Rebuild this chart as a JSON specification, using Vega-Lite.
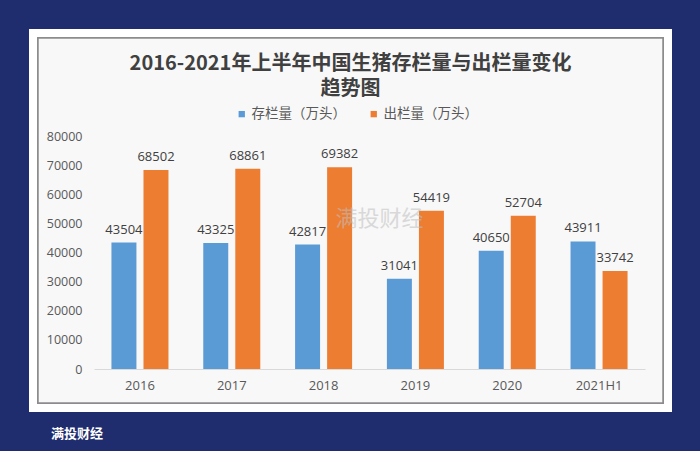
{
  "$schema": "https://vega.github.io/schema/vega-lite/v6.json",
  "width": 643,
  "height": 383,
  "autosize": {"type": "none"},
  "padding": {"left": 29, "top": 29, "right": 28, "bottom": 39},
  "background": "#1f2d6e",
  "config": {"view": {"fill": "#f8f8f8", "stroke": null}, "font": "Noto Sans CJK SC"},
  "title": {
    "text": ["2016-2021年上半年中国生猪存栏量与出栏量变化", "趋势图"],
    "fontSize": 20,
    "fontWeight": "bold",
    "font": "Noto Sans CJK SC",
    "color": "#404040",
    "lineHeight": 25,
    "anchor": "middle",
    "frame": "group",
    "offset": -70,
    "zindex": 1
  },
  "layer": [
    {
      "data": {"values": [{"frame": 1}]},
      "mark": {"type": "rect", "fill": null, "fillOpacity": 0, "stroke": "#8c8c8c", "strokeWidth": 19.5, "clip": true},
      "encoding": {}
    },
    {
      "data": {"values": [{"frame": 1}]},
      "mark": {"type": "rect", "fill": null, "fillOpacity": 0, "stroke": "#ffffff", "strokeWidth": 16, "clip": true},
      "encoding": {}
    },
    {
      "data": {
        "values": [
          {"year": "2016", "series": "存栏量（万头）", "value": 43504},
          {"year": "2016", "series": "出栏量（万头）", "value": 68502},
          {"year": "2017", "series": "存栏量（万头）", "value": 43325},
          {"year": "2017", "series": "出栏量（万头）", "value": 68861},
          {"year": "2018", "series": "存栏量（万头）", "value": 42817},
          {"year": "2018", "series": "出栏量（万头）", "value": 69382},
          {"year": "2019", "series": "存栏量（万头）", "value": 31041},
          {"year": "2019", "series": "出栏量（万头）", "value": 54419},
          {"year": "2020", "series": "存栏量（万头）", "value": 40650},
          {"year": "2020", "series": "出栏量（万头）", "value": 52704},
          {"year": "2021H1", "series": "存栏量（万头）", "value": 43911},
          {"year": "2021H1", "series": "出栏量（万头）", "value": 33742}
        ]
      },
      "encoding": {
        "x": {
          "field": "year",
          "type": "nominal",
          "sort": null,
          "scale": {"range": [65, 616], "paddingInner": 0.379, "paddingOuter": 0.19},
          "axis": {
            "orient": "bottom",
            "offset": -43,
            "title": null,
            "domainColor": "#d9d9d9",
            "domainWidth": 1,
            "ticks": false,
            "tickSize": 0,
            "labelPadding": 10,
            "labelAngle": 0,
            "labelFont": "Open Sans",
            "labelFontSize": 13,
            "labelColor": "#595959",
            "zindex": 1
          }
        },
        "y": {
          "field": "value",
          "type": "quantitative",
          "scale": {"domain": [0, 80000], "range": [340, 107.5], "nice": false},
          "axis": {
            "values": [0, 10000, 20000, 30000, 40000, 50000, 60000, 70000, 80000],
            "format": "d",
            "grid": false,
            "domain": false,
            "ticks": false,
            "tickSize": 0,
            "labelPadding": 0,
            "offset": -53,
            "title": null,
            "labelFont": "Open Sans",
            "labelFontSize": 12.5,
            "labelColor": "#595959",
            "zindex": 1
          }
        }
      },
      "layer": [
        {
          "mark": {"type": "bar"},
          "encoding": {
            "xOffset": {"field": "series", "type": "nominal", "sort": ["存栏量（万头）", "出栏量（万头）"], "scale": {"paddingInner": 0.22}},
            "color": {
              "field": "series",
              "type": "nominal",
              "sort": ["存栏量（万头）", "出栏量（万头）"],
              "scale": {"domain": ["存栏量（万头）", "出栏量（万头）"], "range": ["#5b9bd5", "#ed7d31"]},
              "legend": {
                "orient": "none",
                "legendX": 206,
                "legendY": 78,
                "direction": "horizontal",
                "title": null,
                "symbolType": "square",
                "symbolSize": 40,
                "symbolStrokeWidth": 0,
                "labelFont": "Noto Sans CJK SC",
                "labelFontSize": 13.5,
                "labelColor": "#595959",
                "labelOffset": 3,
                "columnPadding": 21,
                "padding": 0,
                "zindex": 1
              }
            }
          }
        },
        {
          "mark": {"type": "text", "baseline": "bottom", "dy": -6, "font": "Open Sans", "fontSize": 13, "color": "#404040"},
          "encoding": {
            "xOffset": {"field": "series", "type": "nominal", "sort": ["存栏量（万头）", "出栏量（万头）"], "scale": {"paddingInner": 0.22}},
            "text": {"field": "value", "type": "quantitative", "format": "d"}
          }
        },
        {
          "data": {"values": [{"brand": "满投财经", "year": "2019", "value": 51500}]},
          "mark": {"type": "text", "font": "Noto Sans CJK SC", "fontSize": 22, "color": "#bfbfbf", "opacity": 0.55, "dx": -36},
          "encoding": {
            "text": {"field": "brand", "type": "nominal"}
          }
        },
        {
          "data": {"values": [{"brand": "满投财经", "year": "2016", "value": -22400}]},
          "mark": {"type": "text", "font": "Noto Sans CJK SC", "fontSize": 13, "fontWeight": "bold", "color": "#ffffff", "align": "left", "dx": -89},
          "encoding": {
            "text": {"field": "brand", "type": "nominal"}
          }
        }
      ]
    }
  ],
  "resolve": {"scale": {"x": "independent", "y": "independent"}}
}
